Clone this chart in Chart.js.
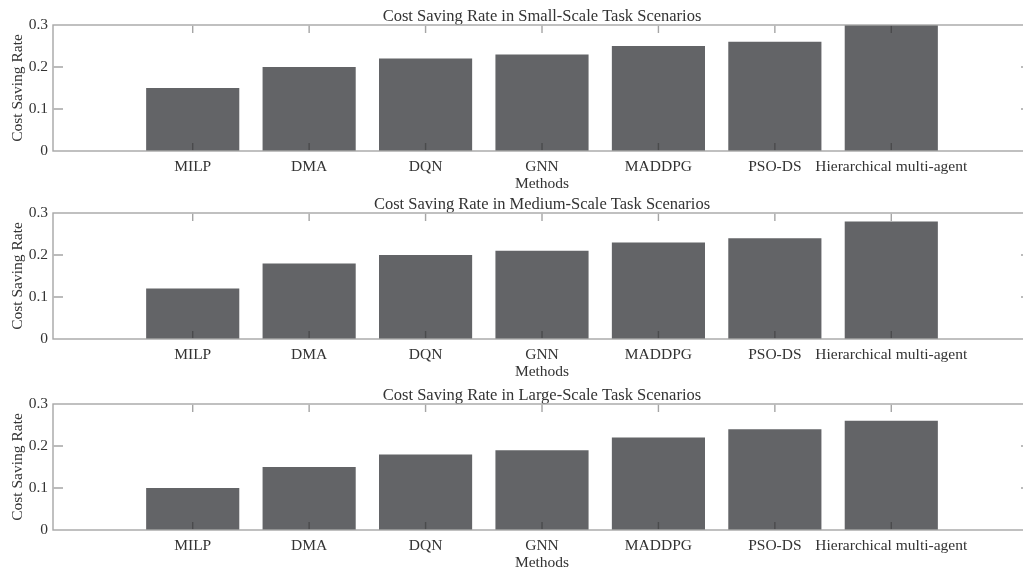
<!DOCTYPE html>
<html>
<head>
<meta charset="utf-8">
<script src="https://cdn.jsdelivr.net/npm/chart.js@4"></script>
<style>
  html, body { margin: 0; padding: 0; background: #fff; overflow: hidden; }
  body { width: 1023px; height: 569px; position: relative; }
  .panel { position: absolute; left: 0; width: 1031px; height: 192px; }
</style>
</head>
<body>
<div class="panel" style="top:1px"><canvas id="smallChart"></canvas></div>
<div class="panel" style="top:189px"><canvas id="mediumChart"></canvas></div>
<div class="panel" style="top:380px"><canvas id="largeChart"></canvas></div>
<script>
const methods = ['MILP', 'DMA', 'DQN', 'GNN', 'MADDPG', 'PSO-DS', 'Hierarchical multi-agent'];
const smallScale = [0.15, 0.20, 0.22, 0.23, 0.25, 0.26, 0.30];
const mediumScale = [0.12, 0.18, 0.20, 0.21, 0.23, 0.24, 0.28];
const largeScale = [0.10, 0.15, 0.18, 0.19, 0.22, 0.24, 0.26];
const yTicks = [0, 0.1, 0.2, 0.3];

const serif = '"Liberation Serif", "Times New Roman", serif';
const textColor = '#333';

// MATLAB-style box with inward ticks, drawn over the bars
const boxAxes = {
  id: 'boxAxes',
  afterDatasetsDraw(chart) {
    const { ctx, chartArea: a, scales: { x, y } } = chart;
    ctx.save();
    ctx.lineWidth = 1.4;
    ctx.strokeStyle = 'rgba(40,40,40,0.42)';
    ctx.beginPath();
    x.ticks.forEach((t) => {
      const px = x.getPixelForValue(t.value);
      ctx.moveTo(px, a.bottom - 0.7); ctx.lineTo(px, a.bottom - 8);
      ctx.moveTo(px, a.top + 0.7); ctx.lineTo(px, a.top + 8);
    });
    y.ticks.slice(1, -1).forEach((t) => {
      const py = y.getPixelForValue(t.value);
      ctx.moveTo(a.left + 0.7, py); ctx.lineTo(a.left + 10, py);
      ctx.moveTo(a.right - 0.7, py); ctx.lineTo(a.right - 10, py);
    });
    ctx.stroke();
    ctx.strokeStyle = '#a6a6a6';
    ctx.strokeRect(a.left, a.top, a.right - a.left, a.bottom - a.top);
    ctx.restore();
  }
};

const makeChart = (id, title, values) => new Chart(document.getElementById(id), {
  type: 'bar',
  data: {
    datasets: [{
      data: values.map((v, i) => ({ x: i + 1, y: v })),
      backgroundColor: '#636467',
      borderWidth: 0,
      categoryPercentage: 0.8,
      barPercentage: 1
    }]
  },
  options: {
    responsive: true,
    maintainAspectRatio: false,
    animation: false,
    layout: { padding: 0 },
    plugins: {
      legend: { display: false },
      tooltip: { enabled: false },
      title: {
        display: true,
        text: title,
        fullSize: false,
        color: textColor,
        font: { family: serif, size: 16.5, weight: 'normal', lineHeight: 1 },
        padding: { top: 7.5, bottom: 0 }
      }
    },
    scales: {
      x: {
        type: 'linear',
        offset: false,
        min: -0.2,
        max: 8.2,
        grid: { display: false, drawTicks: false },
        border: { display: false },
        afterBuildTicks: (s) => { s.ticks = methods.map((m, i) => ({ value: i + 1 })); },
        afterFit: (s) => { s.height = 42; },
        ticks: {
          autoSkip: false,
          maxRotation: 0,
          minRotation: 0,
          padding: 6.5,
          color: textColor,
          font: { family: serif, size: 15.5 },
          callback: (v) => methods[v - 1]
        },
        title: { display: true, text: 'Methods', color: textColor, font: { family: serif, size: 15.5 }, padding: 0 }
      },
      y: {
        min: 0,
        max: 0.3,
        grid: { display: false, drawTicks: false },
        border: { display: false },
        afterBuildTicks: (s) => { s.ticks = yTicks.map((v) => ({ value: v })); },
        afterFit: (s) => { s.width = 53; },
        ticks: {
          padding: 5,
          color: textColor,
          font: { family: serif, size: 15.5 },
          callback: (v) => (v === 0 ? '0' : v.toFixed(1))
        },
        title: { display: true, text: 'Cost Saving Rate', color: textColor, font: { family: serif, size: 15.5 }, padding: { top: 8.5, bottom: 0 } }
      }
    }
  },
  plugins: [boxAxes]
});

makeChart('smallChart', 'Cost Saving Rate in Small-Scale Task Scenarios', smallScale);
makeChart('mediumChart', 'Cost Saving Rate in Medium-Scale Task Scenarios', mediumScale);
makeChart('largeChart', 'Cost Saving Rate in Large-Scale Task Scenarios', largeScale);
</script>
</body>
</html>
